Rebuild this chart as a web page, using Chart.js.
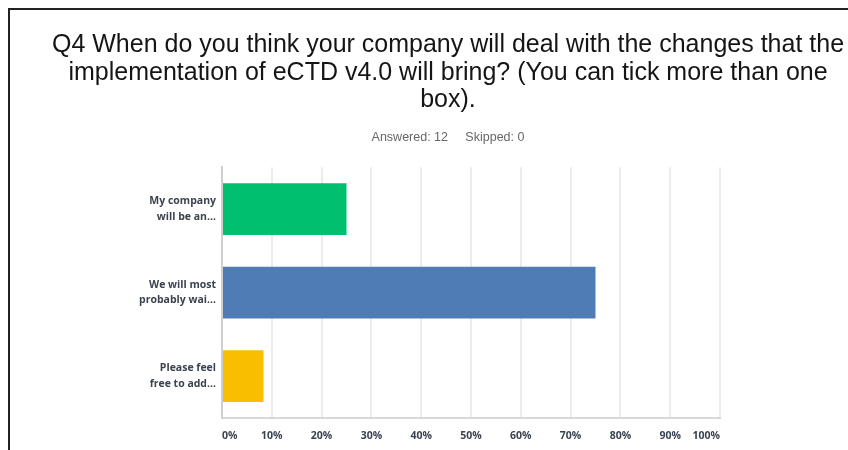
<!DOCTYPE html>
<html>
<head>
<meta charset="utf-8">
<script src="https://cdn.jsdelivr.net/npm/chart.js@4"></script>
<style>
    html, body { margin: 0; padding: 0; background: #fff; overflow: hidden; }
    #wrap { position: relative; width: 848px; height: 450px; overflow: hidden; }
    #frameTop { position: absolute; left: 8px; top: 8px; width: 840px; height: 2px; background: #222; }
    #frameLeft { position: absolute; left: 8px; top: 8px; width: 2px; height: 442px; background: #222; }
    #chartBox { position: absolute; left: 0; top: 0; width: 896px; height: 450px; }
</style>
</head>
<body>
<div id="wrap">
    <div id="chartBox"><canvas id="surveyChart"></canvas></div>
    <div id="frameTop"></div>
    <div id="frameLeft"></div>
</div>
<script>
// Question text and response summary
const titleLines = [
    'Q4 When do you think your company will deal with the changes that the',
    'implementation of eCTD v4.0 will bring? (You can tick more than one',
    'box).'
];
const subtitleText = 'Answered: 12     Skipped: 0';

// Answer choices (truncated as shown) and share of respondents, in %
const answerLabels = [
    ['My company', 'will be an...'],
    ['We will most', 'probably wai...'],
    ['Please feel', 'free to add...']
];
const answerPercents = [25, 75, 8.33];
const barColors = ['#00bf6f', '#507cb6', '#f9be00'];

// Percent ticks along the bottom
const tickValues = [0, 10, 20, 30, 40, 50, 60, 70, 80, 90, 100];

document.addEventListener('DOMContentLoaded', function() {
    const ctx = document.getElementById('surveyChart').getContext('2d');
    new Chart(ctx, {
        type: 'bar',
        data: {
            labels: answerLabels,
            datasets: [{
                data: answerPercents,
                backgroundColor: barColors,
                borderWidth: 0,
                barPercentage: 0.62,
                categoryPercentage: 1.0
            }]
        },
        options: {
            indexAxis: 'y',
            responsive: true,
            maintainAspectRatio: false,
            animation: false,
            layout: {
                padding: { top: 31, right: 0, bottom: 0, left: 0 }
            },
            plugins: {
                legend: { display: false },
                tooltip: { enabled: false },
                title: {
                    display: true,
                    text: titleLines,
                    color: '#151515',
                    font: { family: '"Liberation Sans", Arial, sans-serif', size: 25, weight: 'normal', lineHeight: 1.11 },
                    padding: { top: 0, bottom: 8 }
                },
                subtitle: {
                    display: true,
                    text: subtitleText,
                    color: '#666',
                    font: { family: '"Liberation Sans Narrow", "Liberation Sans", sans-serif', size: 12.5 },
                    padding: { top: 8, bottom: 22 }
                }
            },
            scales: {
                x: {
                    min: 0,
                    max: 100,
                    afterBuildTicks: function(scale) {
                        scale.ticks = tickValues.map(v => ({ value: v }));
                    },
                    afterFit: function(scale) {
                        scale.height = 32;
                    },
                    ticks: {
                        align: 'inner',
                        padding: 12,
                        color: '#3b4250',
                        font: { family: '"Open Sans", sans-serif', size: 10.5, weight: 'bold' },
                        callback: v => v + '%'
                    },
                    grid: {
                        color: '#ececec',
                        lineWidth: 2,
                        drawTicks: false
                    },
                    border: { color: '#d8d8d8', width: 2 }
                },
                y: {
                    afterFit: function(scale) {
                        scale.width = 222;
                    },
                    ticks: {
                        padding: 6,
                        color: '#3b4250',
                        font: { family: '"Open Sans", sans-serif', size: 10.5, weight: 'bold', lineHeight: 1.5 }
                    },
                    grid: { display: false, drawTicks: false },
                    border: { color: '#cfcfcf', width: 2 }
                },
                // empty right-hand gutter so the plot stops at x=720 while the title stays centred
                gutter: {
                    axis: 'y',
                    type: 'linear',
                    position: 'right',
                    ticks: { display: false },
                    grid: { display: false, drawTicks: false },
                    border: { display: false },
                    afterFit: function(scale) {
                        scale.width = 176;
                    }
                }
            }
        }
    });
});
</script>
</body>
</html>
